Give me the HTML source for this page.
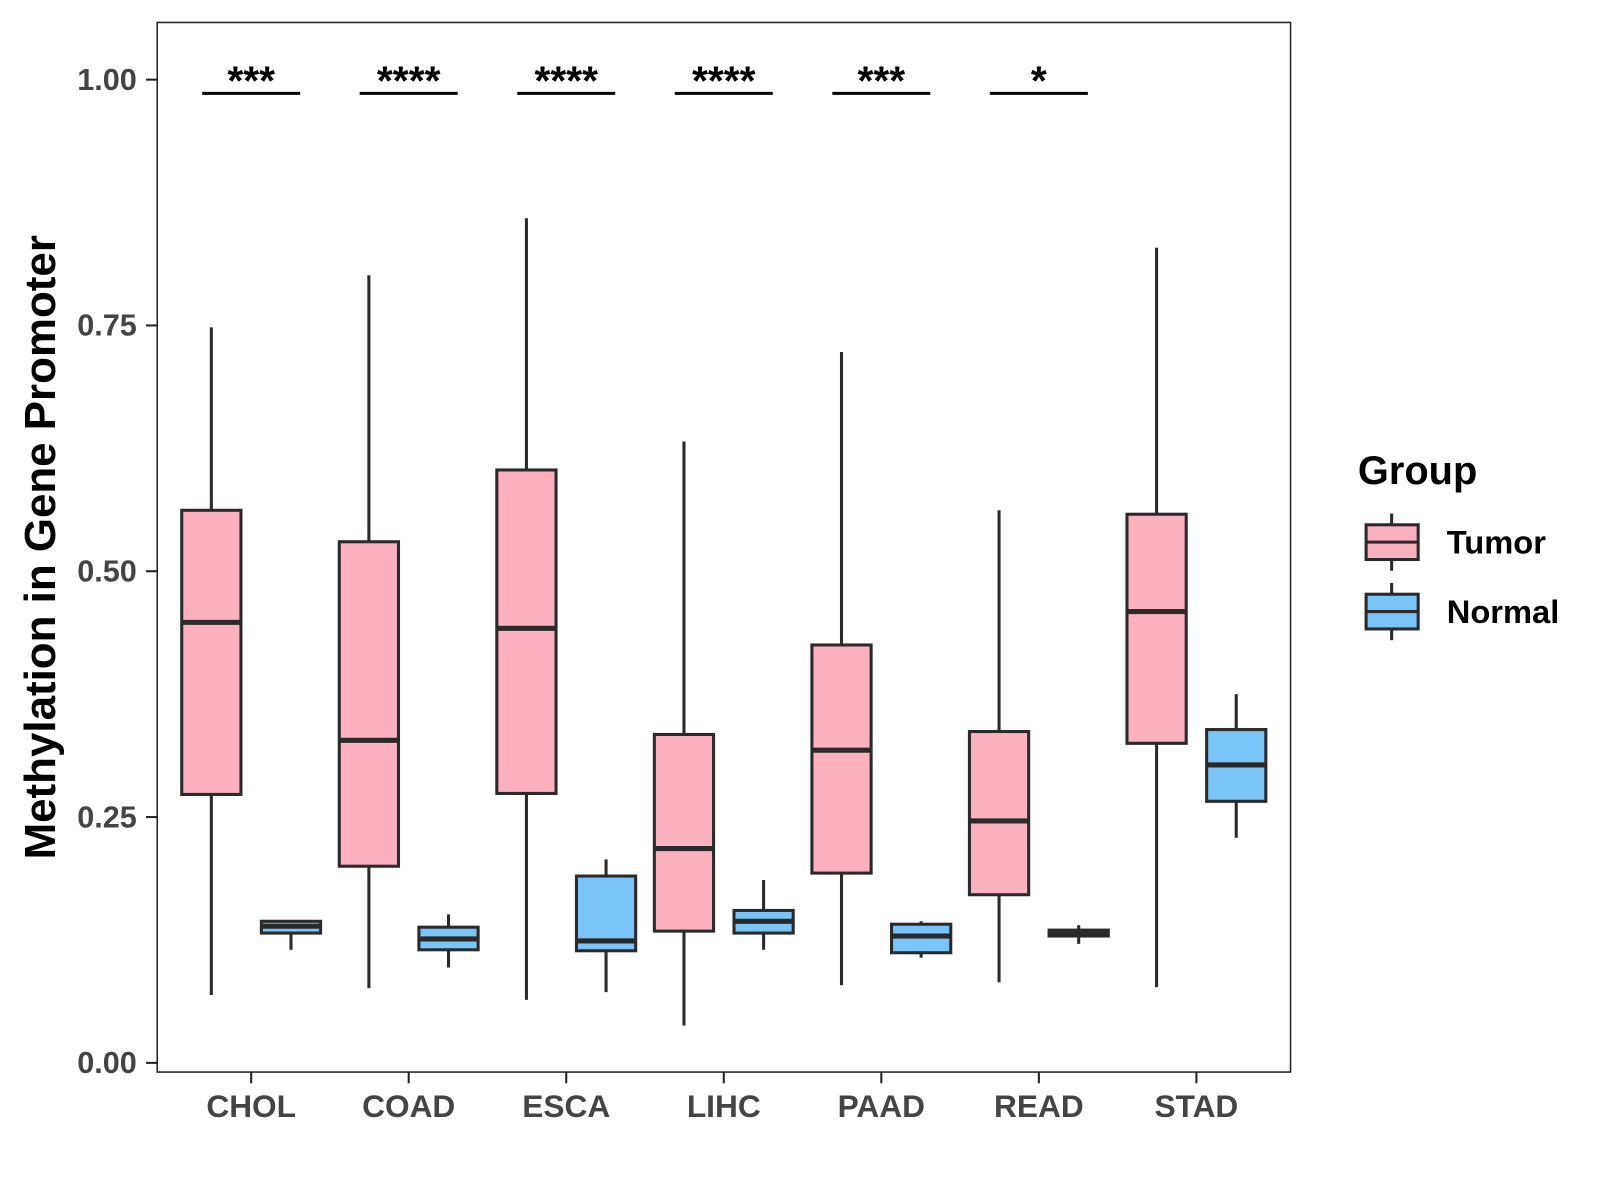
<!DOCTYPE html>
<html><head><meta charset="utf-8"><style>
body{margin:0;background:#fff}
svg{display:block;font-family:"Liberation Sans",Arial,sans-serif}
</style></head><body>
<svg id="chart" width="1600" height="1200" viewBox="0 0 1600 1200">
<rect x="0" y="0" width="1600" height="1200" fill="#fff"/>
<g transform="scale(1.021)">
<rect x="154" y="22" width="1110" height="1028" fill="none" stroke="#222" stroke-width="1.5"/>
<g id="marks"></g>
<text transform="translate(54,536) rotate(-90)" text-anchor="middle" font-size="43" font-weight="bold" fill="#000">Methylation in Gene Promoter</text>
<g>
<text x="1330" y="474" font-size="39" font-weight="bold" fill="#000">Group</text>
<g>
<line x1="1363" y1="503" x2="1363" y2="559" stroke="#2a2a2a" stroke-width="3"/>
<rect x="1338" y="514" width="51" height="34" fill="#FDB0C0" stroke="#2a2a2a" stroke-width="3"/>
<line x1="1338" y1="531" x2="1389" y2="531" stroke="#2a2a2a" stroke-width="3"/>
<text x="1417" y="542" font-size="32" font-weight="bold" fill="#000">Tumor</text></g>
<g>
<line x1="1363" y1="571" x2="1363" y2="627" stroke="#2a2a2a" stroke-width="3"/>
<rect x="1338" y="582" width="51" height="34" fill="#7AC4F8" stroke="#2a2a2a" stroke-width="3"/>
<line x1="1338" y1="599" x2="1389" y2="599" stroke="#2a2a2a" stroke-width="3"/>
<text x="1417" y="610" font-size="32" font-weight="bold" fill="#000">Normal</text></g>
</g>
</g>
</svg>
<script>
const categories=["CHOL","COAD","ESCA","LIHC","PAAD","READ","STAD"];
// [low, q1, median, q3, high]
const tumorStats=[[0.069,0.273,0.448,0.562,0.748],[0.076,0.200,0.328,0.530,0.801],[0.064,0.274,0.442,0.603,0.859],[0.038,0.134,0.218,0.334,0.632],[0.079,0.193,0.318,0.425,0.723],[0.082,0.171,0.246,0.337,0.562],[0.077,0.325,0.459,0.558,0.829]];
const normalStats=[[0.115,0.132,0.139,0.144,0.145],[0.097,0.115,0.126,0.138,0.151],[0.072,0.114,0.124,0.190,0.207],[0.115,0.132,0.144,0.155,0.186],[0.107,0.112,0.129,0.141,0.144],[0.121,0.129,0.132,0.135,0.140],[0.229,0.266,0.303,0.339,0.375]];
const sigLabels=["***","****","****","****","***","*",""];
const yTicks=[0,0.25,0.5,0.75,1.0];
const yTickLabels=["0.00","0.25","0.50","0.75","1.00"];
const sigLevel=0.986;

const NS="http://www.w3.org/2000/svg";
const g=document.getElementById("marks");
function y(v){return 1041-v*963;}
function x(i){return 246+i*154.3;}
function el(tag,attrs,parent){const e=document.createElementNS(NS,tag);for(const k in attrs)e.setAttribute(k,attrs[k]);(parent||g).appendChild(e);return e;}

yTicks.forEach((t,i)=>{
  const tk=el("line",{x1:143,x2:154,y1:y(t),y2:y(t),stroke:"#222","stroke-width":2});
  
  
  const tl=el("text",{x:134,y:y(t)+10,"text-anchor":"end","font-size":30,"font-weight":"bold",fill:"#444"});
  tl.textContent=yTickLabels[i];
  
  
});
categories.forEach((c,i)=>{
  const tk=el("line",{x1:x(i),x2:x(i),y1:1050,y2:1061,stroke:"#222","stroke-width":2});
  
  
  const tl=el("text",{x:x(i),y:1094,"text-anchor":"middle","font-size":31,"font-weight":"bold",fill:"#444"});
  tl.textContent=c;
  
  
});
function box(cx,s,fill,name){
  const grp=el("g",{});
  
  
  const w=58;
  el("line",{x1:cx,x2:cx,y1:y(s[4]),y2:y(s[0]),stroke:"#2a2a2a","stroke-width":3},grp);
  el("rect",{x:cx-w/2,y:y(s[3]),width:w,height:Math.max(y(s[1])-y(s[3]),1),fill:fill,stroke:"#2a2a2a","stroke-width":3},grp);
  el("line",{x1:cx-w/2,x2:cx+w/2,y1:y(s[2]),y2:y(s[2]),stroke:"#2a2a2a","stroke-width":5},grp);
}
categories.forEach((c,i)=>{
  box(x(i)-39,tumorStats[i],"#FDB0C0","box-tumor-"+c.toLowerCase());
  box(x(i)+39,normalStats[i],"#7AC4F8","box-normal-"+c.toLowerCase());
  if(sigLabels[i]){
    const ln=el("line",{x1:x(i)-48,x2:x(i)+48,y1:y(sigLevel),y2:y(sigLevel),stroke:"#000","stroke-width":3});
    
    
    const t=el("text",{x:x(i),y:y(sigLevel)+1,"text-anchor":"middle","font-size":40,"font-weight":"bold",fill:"#000"});
    t.textContent=sigLabels[i];
    
    
  }
});
</script>
</body></html>
